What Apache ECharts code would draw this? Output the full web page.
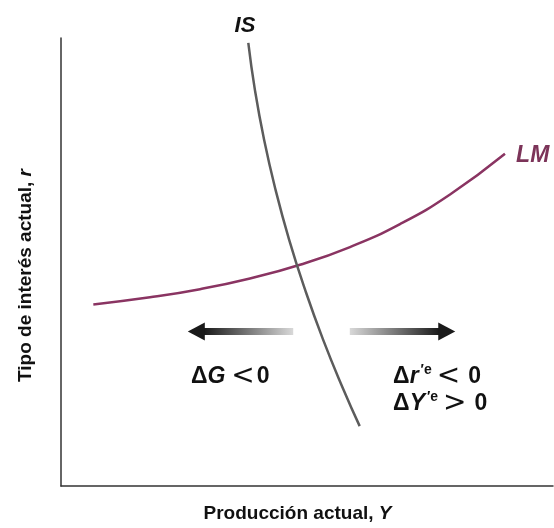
<!DOCTYPE html>
<html>
<head>
<meta charset="utf-8">
<script src="https://cdn.jsdelivr.net/npm/echarts@6/dist/echarts.min.js"></script>
<style>html,body{margin:0;padding:0;background:#fff}#c{width:554px;height:528px}</style>
</head>
<body>
<div id="c"></div>
<script>
// IS curve (output Y, interest rate r)
const isX = [38.07, 39.41, 41.28, 43.60, 46.36, 49.59, 53.25, 57.38, 60.71];
const isY = [98.89, 88.42, 77.28, 66.15, 55.01, 43.88, 32.74, 21.60, 13.36];
// LM curve
const lmX = [6.57, 18.09, 28.25, 38.41, 48.58, 58.74, 68.90, 79.07, 90.24];
const lmY = [40.53, 42.12, 43.94, 46.33, 49.38, 53.34, 58.46, 65.08, 74.16];
// arrows: [tailX, shaftEndX, headCenterX, y]
const leftArrow = [47.2, 29.0, 27.5, 34.5];
const rightArrow = [58.7, 77.0, 78.4, 34.5];
// text annotations
const labelIS = [37.4, 102.8];
const labelLM = [92.5, 73.8];
const labelLeft = [26.4, 24.5];
const labelRight1 = [67.5, 24.4];
const labelRight2 = [67.5, 18.3];

const FONT = '"Liberation Sans", Arial, Helvetica, sans-serif';
const zip = (a, b) => a.map((v, i) => [v, b[i]]);

const chart = echarts.init(document.getElementById('c'), null, {renderer: 'canvas'});

function grad(darkLeft) {
  return new echarts.graphic.LinearGradient(0, 0, 1, 0, darkLeft ?
    [{offset: 0, color: '#111'}, {offset: 1, color: '#e0e0e0'}] :
    [{offset: 0, color: '#e0e0e0'}, {offset: 1, color: '#111'}]);
}

function txt(pos, text, rich, align) {
  return {
    type: 'scatter', clip: false, symbolSize: 0, silent: true,
    itemStyle: {opacity: 1},
    data: [pos],
    label: {
      show: true, position: [0, 0], align: align || 'left', verticalAlign: 'middle',
      formatter: text, rich: rich, opacity: 1
    }
  };
}

const big = {fontFamily: FONT, fontWeight: 'bold', fontSize: 23, color: '#111', lineHeight: 28};
const bigI = Object.assign({}, big, {fontStyle: 'italic'});
const sup = {fontFamily: FONT, fontWeight: 'bold', fontSize: 14, color: '#111', verticalAlign: 'top', padding: [0, 0, 10, 2]};
const opL = {fontFamily: '"DejaVu Sans", sans-serif', fontSize: 28, lineHeight: 28, color: '#111', padding: [0, 2, 0, 6]};
const opR = {fontFamily: '"DejaVu Sans", sans-serif', fontSize: 28, lineHeight: 28, color: '#111', padding: [0, 8, 0, 5]};

chart.setOption({
  animation: false,
  grid: {left: 61, right: 1, top: 38, bottom: 41},
  xAxis: {
    type: 'value', min: 0, max: 100,
    axisLine: {show: true, lineStyle: {color: '#333', width: 1.5}},
    axisTick: {show: false}, axisLabel: {show: false}, splitLine: {show: false},
    name: '{a|Producción actual, }{b|Y}', nameLocation: 'middle', nameGap: 18,
    nameTextStyle: {
      verticalAlign: 'top', padding: [0, 19, 0, 0],
      rich: {
        a: {fontFamily: FONT, fontWeight: 'bold', fontSize: 19, color: '#111'},
        b: {fontFamily: FONT, fontWeight: 'bold', fontStyle: 'italic', fontSize: 19, color: '#111'}
      }
    }
  },
  yAxis: {
    type: 'value', min: 0, max: 100,
    axisLine: {show: true, lineStyle: {color: '#333', width: 1.5}},
    axisTick: {show: false}, axisLabel: {show: false}, splitLine: {show: false},
    name: '{a|Tipo de interés actual, }{b|r}', nameLocation: 'middle', nameGap: 26,
    nameTextStyle: {
      padding: [0, 27, 0, 0],
      rich: {
        a: {fontFamily: FONT, fontWeight: 'bold', fontSize: 19, color: '#111'},
        b: {fontFamily: FONT, fontWeight: 'bold', fontStyle: 'italic', fontSize: 19, color: '#111'}
      }
    }
  },
  series: [
    {type: 'line', smooth: true, symbol: 'none', data: zip(isX, isY),
     lineStyle: {color: '#5c5c5c', width: 2.5}, z: 3},
    {type: 'line', smooth: true, symbol: 'none', data: zip(lmX, lmY),
     lineStyle: {color: '#8a3462', width: 2.5}, z: 2},
    {type: 'line', symbol: 'none', data: [[leftArrow[0], leftArrow[3]], [leftArrow[1], leftArrow[3]]],
     lineStyle: {color: grad(true), width: 7, cap: 'butt'}, z: 4},
    {type: 'line', symbol: 'none', data: [[rightArrow[0], rightArrow[3]], [rightArrow[1], rightArrow[3]]],
     lineStyle: {color: grad(false), width: 7, cap: 'butt'}, z: 4},
    {type: 'scatter', symbol: 'triangle', symbolSize: [18, 17], symbolRotate: 90,
     data: [[leftArrow[2], leftArrow[3]]], itemStyle: {color: '#1a1a1a', opacity: 1}, z: 5, silent: true},
    {type: 'scatter', symbol: 'triangle', symbolSize: [18, 17], symbolRotate: -90,
     data: [[rightArrow[2], rightArrow[3]]], itemStyle: {color: '#1a1a1a', opacity: 1}, z: 5, silent: true},
    txt(labelIS, '{i|IS}', {i: {fontFamily: FONT, fontWeight: 'bold', fontStyle: 'italic', fontSize: 22, color: '#111'}}, 'center'),
    txt(labelLM, '{i|LM}', {i: {fontFamily: FONT, fontWeight: 'bold', fontStyle: 'italic', fontSize: 23, color: '#7c3459'}}),
    txt(labelLeft, '{n|Δ}{i|G}{o|<}{n|0}', {n: big, i: bigI, o: opL}),
    txt(labelRight1, '{n|Δ}{i|r}{s|′e}{o|<}{n|0}', {n: big, i: bigI, s: sup, o: opR}),
    txt(labelRight2, '{n|Δ}{i|Y}{s|′e}{o|>}{n|0}', {n: big, i: bigI, s: sup, o: opR})
  ]
});
</script>
</body>
</html>
